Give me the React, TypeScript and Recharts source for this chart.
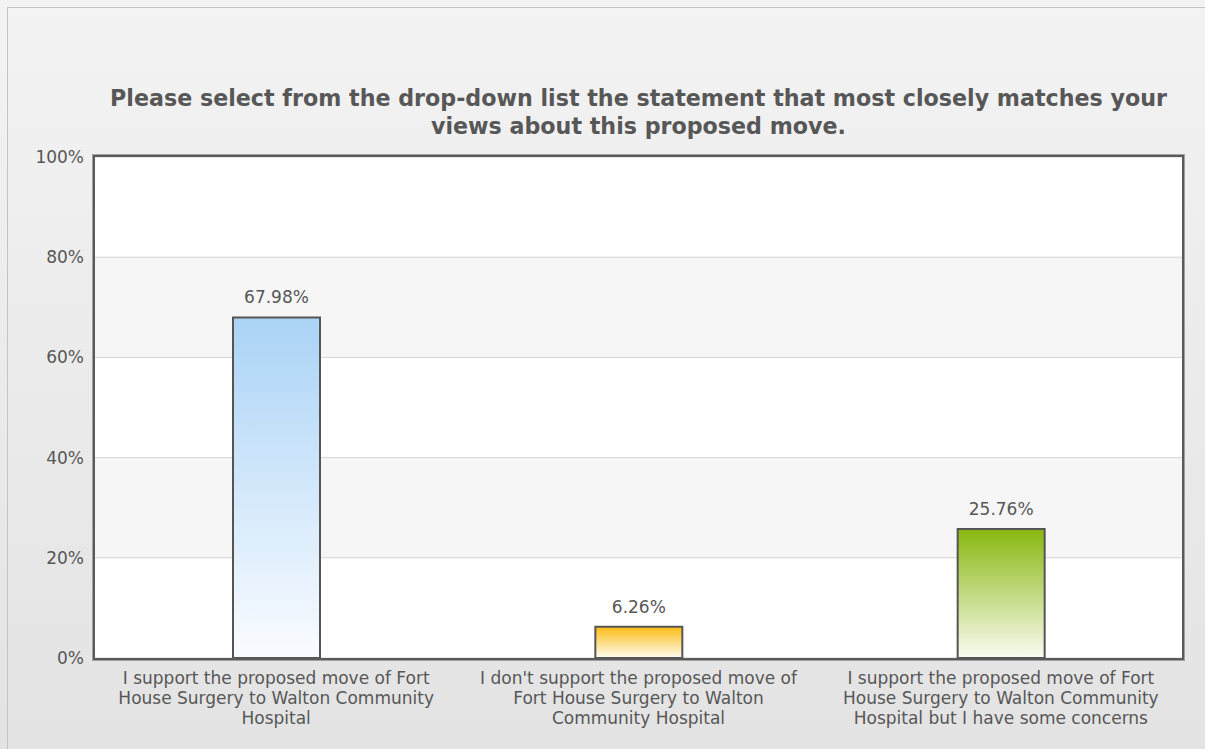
import React from 'react';
import { BarChart, Bar, XAxis, YAxis, CartesianGrid, Cell, LabelList } from 'recharts';

const TITLE_LINES = [
  'Please select from the drop-down list the statement that most closely matches your',
  'views about this proposed move.',
];

const categories = [
  'I support the proposed move of Fort House Surgery to Walton Community Hospital',
  "I don't support the proposed move of Fort House Surgery to Walton Community Hospital",
  'I support the proposed move of Fort House Surgery to Walton Community Hospital but I have some concerns',
];

// wrapped as in the original axis labels
const categoryLines = [
  ['I support the proposed move of Fort', 'House Surgery to Walton Community', 'Hospital'],
  ["I don't support the proposed move of", 'Fort House Surgery to Walton', 'Community Hospital'],
  ['I support the proposed move of Fort', 'House Surgery to Walton Community', 'Hospital but I have some concerns'],
];

const percentages = [67.98, 6.26, 25.76];
const yTicks = [0, 20, 40, 60, 80, 100];

const gradients = [
  { id: 'barBlue', top: '#aad3f6', bottom: '#fafcff' },
  { id: 'barOrange', top: '#fbbc12', bottom: '#fffcf2' },
  { id: 'barGreen', top: '#88b70f', bottom: '#fafcf2' },
];

const data = categories.map((name, i) => ({ name, value: percentages[i] }));

const FONT = '"DejaVu Sans", Verdana, sans-serif';
const TEXT = '#575757';

const W = 1205;
const H = 749;
const M = { top: 157, right: 23, bottom: 0, left: 35 };
const Y_W = 60;
const X_H = 91;

function CategoryTick(props: any) {
  const { x, y, index } = props;
  const lines = categoryLines[index] || [];
  return (
    <g transform={`translate(${x},${y})`}>
      <text textAnchor="middle" fill={TEXT} fontSize={17} fontFamily={FONT}>
        {lines.map((l: string, i: number) => (
          <tspan key={i} x={0} y={18 + i * 20}>{l}</tspan>
        ))}
      </text>
    </g>
  );
}

export default function App() {
  const plotLeft = M.left + Y_W;
  const plotWidth = W - plotLeft - M.right;
  const plotHeight = H - M.top - M.bottom - X_H;

  return (
    <div
      style={{
        position: 'absolute',
        left: 0,
        top: 0,
        width: W,
        height: H,
        overflow: 'hidden',
        background: 'linear-gradient(#f3f3f3, #e3e3e3)',
      }}
    >
      <div
        style={{
          position: 'absolute',
          left: 7,
          top: 7,
          width: W,
          height: H,
          border: '1px solid #c4c4c4',
        }}
      />
      <div
        style={{
          position: 'absolute',
          left: plotLeft,
          width: plotWidth,
          top: 84,
          textAlign: 'center',
          fontFamily: FONT,
          fontWeight: 'bold',
          fontSize: 22.2,
          lineHeight: '28px',
          color: TEXT,
          whiteSpace: 'nowrap',
        }}
      >
        {TITLE_LINES.map((t) => (
          <div key={t}>{t}</div>
        ))}
      </div>
      <div style={{ position: 'absolute', left: 0, top: 0 }}>
        <BarChart width={W} height={H} data={data} margin={M} barSize={87}>
          <defs>
            {gradients.map((g) => (
              <linearGradient key={g.id} id={g.id} x1="0" y1="0" x2="0" y2="1">
                <stop offset="0%" stopColor={g.top} />
                <stop offset="100%" stopColor={g.bottom} />
              </linearGradient>
            ))}
          </defs>
          <CartesianGrid
            vertical={false}
            stroke="#d4d4d4"
            horizontalFill={['#ffffff', '#f6f6f6']}
            fillOpacity={1}
          />
          <XAxis
            dataKey="name"
            height={X_H}
            axisLine={false}
            tickLine={false}
            interval={0}
            tick={<CategoryTick />}
          />
          <YAxis
            domain={[0, 100]}
            ticks={yTicks}
            width={Y_W}
            axisLine={false}
            tickLine={false}
            tickSize={8}
            tickMargin={3}
            tickFormatter={(v) => `${v}%`}
            tick={{ fill: TEXT, fontSize: 17, fontFamily: FONT }}
          />
          <Bar dataKey="value" stroke="#555555" strokeWidth={2} isAnimationActive={false}>
            {data.map((d, i) => (
              <Cell key={d.name} fill={`url(#${gradients[i].id})`} />
            ))}
            <LabelList
              dataKey="value"
              position="top"
              offset={14}
              formatter={(v: any) => `${Number(v).toFixed(2)}%`}
              fill={TEXT}
              fontSize={17}
              fontFamily={FONT}
            />
          </Bar>
        </BarChart>
      </div>
      <div
        style={{
          position: 'absolute',
          left: plotLeft - 2,
          top: M.top - 2,
          width: plotWidth + 4,
          height: plotHeight + 4,
          boxSizing: 'border-box',
          border: '2px solid #5a5a5a',
          boxShadow: '0 0 0 1px #a0a0a0',
          pointerEvents: 'none',
        }}
      />
    </div>
  );
}
